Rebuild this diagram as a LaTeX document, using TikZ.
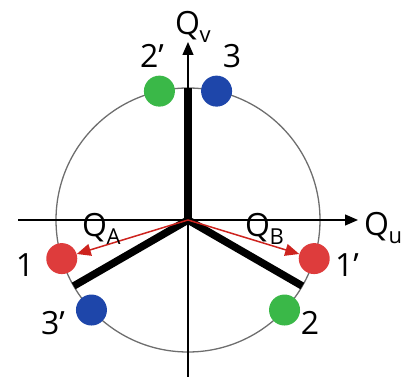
\documentclass[tikz,border=0pt]{standalone}
\usepackage{fontspec}
\setmainfont{Open Sans}
\usetikzlibrary{arrows.meta,calc}
\definecolor{dotred}{RGB}{222,60,60}
\definecolor{dotgreen}{RGB}{58,184,72}
\definecolor{dotblue}{RGB}{30,70,170}
\definecolor{ringgray}{RGB}{110,110,110}
\definecolor{vecred}{RGB}{205,35,30}
\newcommand{\qsub}[1]{Q\kern-0.5pt\raisebox{-0.22em}{\fontsize{22}{22}\selectfont #1}}
\tikzset{
  axisline/.style={line width=1.2pt, -{Triangle[length=13pt,width=11pt]}},
  ring/.style={draw=ringgray, line width=1.3pt},
  spoke/.style={line width=7.5pt, line cap=butt, line join=miter},
  vec/.style={draw=vecred, line width=1.5pt, -{Triangle[length=14pt,width=12pt]}},
  dot/.style={circle, minimum size=31pt, inner sep=0pt, fill=#1},
  lab/.style={font=\fontsize{32}{32}\selectfont, inner sep=0pt, anchor=base},
  qlab/.style={font=\fontsize{32}{32}\selectfont, inner sep=0pt, anchor=base west}
}
\begin{document}
\begin{tikzpicture}[x=1pt,y=-1pt]
\useasboundingbox (0,0) rectangle (416,377);
\coordinate (O) at (188,220);
% ring
\draw[ring] (O) circle[radius=132];
% axes ends
\coordinate (xl) at (18,220);
\coordinate (xr) at (358,220);
\coordinate (yb) at (188,377);
\coordinate (yt) at (188,42);
% spoke ends (y axis points down, so angles are negated)
\coordinate (s1) at ($(O)+(-90:132)$);
\coordinate (s2) at ($(O)+(-210:132)$);
\coordinate (s3) at ($(O)+(-330:132)$);
\draw[spoke] (s2) -- (O) -- (s3);
\draw[spoke] (O) -- (s1);
% axes
\draw[axisline] (xl) -- (xr);
\draw[axisline] (yb) -- (yt);
% dots
\node[dot=dotgreen] (d2p) at ($(O)+(-102.5:132)$) {};
\node[dot=dotblue]  (d3)  at ($(O)+(-77.5:132)$) {};
\node[dot=dotred]   (d1)  at ($(O)+(-197:132)$) {};
\node[dot=dotblue]  (d3p) at ($(O)+(-223:132)$) {};
\node[dot=dotred]   (d1p) at ($(O)+(-343:132)$) {};
\node[dot=dotgreen] (d2)  at ($(O)+(-317:132)$) {};
% vectors
\draw[vec] (O) -- (d1);
\draw[vec] (O) -- (d1p);
% labels
\node[lab] (l2p) at (152,68) {2’};
\node[lab] (l3)  at (232,68) {3};
\node[lab] (l1)  at (25,277) {1};
\node[lab] (l1p) at (347,277) {1’};
\node[lab] (l3p) at (53,335) {3’};
\node[lab] (l2)  at (310,335) {2};
\node[qlab] (qv) at (175,35) {\qsub{v}};
\node[qlab] (qu) at (364,236) {\qsub{u}};
\node[qlab] (qa) at (82,237) {\qsub{A}};
\node[qlab] (qb) at (245,237) {\qsub{B}};
\end{tikzpicture}
\end{document}
